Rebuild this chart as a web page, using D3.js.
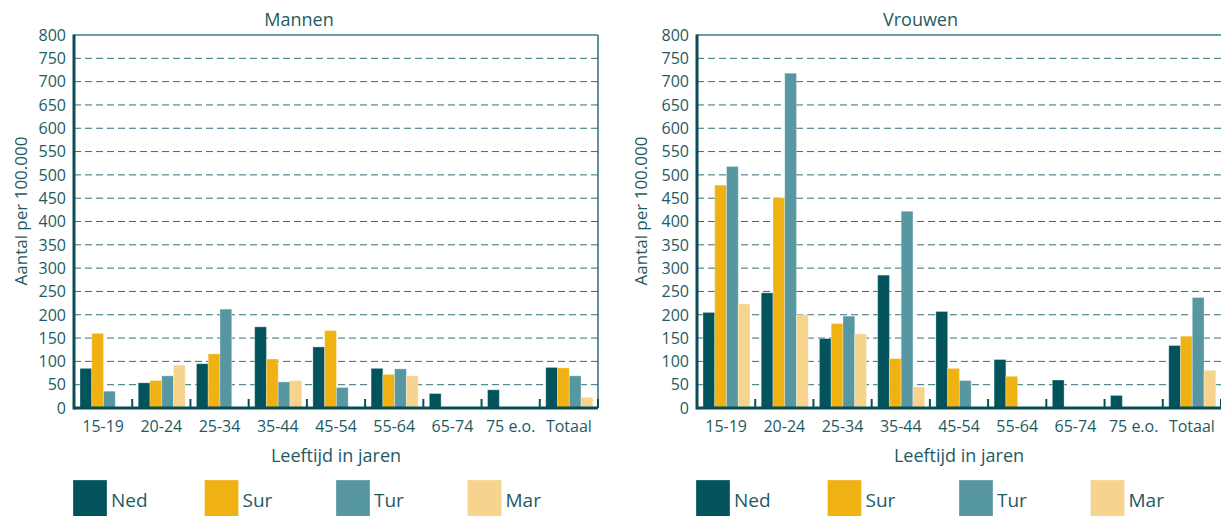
<!DOCTYPE html>
<html><head><meta charset="utf-8">
<script src="https://cdn.jsdelivr.net/npm/d3@7"></script>
<style>
body{margin:0;background:#fff;}
svg{display:block;font-family:"Open Sans",sans-serif;}
</style></head><body>
<svg id="c" width="1221" height="516"></svg>
<script>
const categories = ["15-19","20-24","25-34","35-44","45-54","55-64","65-74","75 e.o.","Totaal"];
const seriesNames = ["Ned","Sur","Tur","Mar"];
const seriesColors = ["#02535c","#f0b112","#5797a2","#f7d48d"];
const yTicks = [0,50,100,150,200,250,300,350,400,450,500,550,600,650,700,750,800];

// Mannen
const menNed = [85,54,95,174,131,85,31,39,87];
const menSur = [160,59,116,105,166,72,0,0,86];
const menTur = [36,69,212,56,44,84,0,0,69];
const menMar = [0,92,0,59,0,69,0,0,23];
// Vrouwen
const womNed = [205,247,149,285,207,104,60,27,134];
const womSur = [478,451,181,106,85,68,0,0,154];
const womTur = [518,718,197,422,59,0,0,0,237];
const womMar = [223,200,159,45,0,0,0,0,81];

const panels = [
  {title:"Mannen", series:[menNed,menSur,menTur,menMar], left:0, right:598, x0:74, x1:598, rightBorder:true},
  {title:"Vrouwen", series:[womNed,womSur,womTur,womMar], left:620, right:1221, x0:697, x1:1221, rightBorder:false}
];

const TEXT = "#1d5b63";
const DARK = "#0b4d55";
const svg = d3.select("#c");
const yTop = 35, yBot = 408;

panels.forEach(p => {
  const g = svg.append("g");
  const y = d3.scaleLinear().domain([0,800]).range([yBot,yTop]);
  const x = d3.scaleBand().domain(categories).range([p.x0,p.x1]).paddingInner(0).paddingOuter(0);
  const bw = x.bandwidth();
  const xs = d3.scaleBand().domain(seriesNames).range([bw*0.103, bw*0.911]).padding(0);

  // title
  g.append("text").attr("x",(p.left+p.right)/2).attr("y",26).attr("text-anchor","middle")
    .attr("fill",TEXT).attr("font-size",18).text(p.title);

  // gridlines
  g.selectAll("line.grid").data(yTicks.filter(t=>t>0 && t<800)).join("line")
    .attr("x1",p.x0).attr("x2",p.x1).attr("y1",d=>y(d)).attr("y2",d=>y(d))
    .attr("stroke","#2f6f78").attr("stroke-width",1).attr("stroke-dasharray","7,4");

  // top border
  g.append("line").attr("x1",p.x0).attr("x2",p.x1).attr("y1",y(800)).attr("y2",y(800))
    .attr("stroke","#3f7f88").attr("stroke-width",1.5);
  if (p.rightBorder) {
    g.append("line").attr("x1",p.x1).attr("x2",p.x1).attr("y1",y(800)).attr("y2",y(0))
      .attr("stroke","#2f6f78").attr("stroke-width",1.5);
  }

  // bars
  seriesNames.forEach((s,si) => {
    g.selectAll(null).data(categories.map((c,i)=>({c, v:p.series[si][i]})).filter(d=>d.v>0)).join("rect")
      .attr("x",d=>x(d.c)+xs(s)).attr("width",xs.bandwidth())
      .attr("y",d=>y(d.v)).attr("height",d=>y(0)-y(d.v))
      .attr("fill",seriesColors[si]).attr("stroke","rgba(255,255,255,0.3)").attr("stroke-width",1);
  });

  // baseline
  g.append("line").attr("x1",p.x0).attr("x2",p.x1).attr("y1",y(0)).attr("y2",y(0))
    .attr("stroke",DARK).attr("stroke-width",3);
  // category separator ticks
  g.selectAll(null).data(d3.range(1,categories.length+1)).join("line")
    .attr("x1",i=>p.x0+i*bw).attr("x2",i=>p.x0+i*bw).attr("y1",y(0)).attr("y2",y(0)-9)
    .attr("stroke",DARK).attr("stroke-width",2);
  // left axis
  g.append("line").attr("x1",p.x0).attr("x2",p.x0).attr("y1",y(800)-0.5).attr("y2",y(0)+1.5)
    .attr("stroke",DARK).attr("stroke-width",3);

  // y tick labels
  g.selectAll(null).data(yTicks).join("text")
    .attr("x",p.x0-8).attr("y",d=>y(d)).attr("dy","0.36em").attr("text-anchor","end")
    .attr("fill",TEXT).attr("font-size",16).text(d=>d);

  // x labels
  g.selectAll(null).data(categories).join("text")
    .attr("x",d=>x(d)+bw/2).attr("y",432).attr("text-anchor","middle")
    .attr("fill",TEXT).attr("font-size",16).text(d=>d);

  // axis titles
  g.append("text").attr("x",(p.x0+p.x1)/2).attr("y",462).attr("text-anchor","middle")
    .attr("fill",TEXT).attr("font-size",18).text("Leeftijd in jaren");
  g.append("text").attr("transform",`translate(${p.left+27},211) rotate(-90)`).attr("text-anchor","middle")
    .attr("fill",TEXT).attr("font-size",17).text("Aantal per 100.000");

  // legend
  seriesNames.forEach((s,si) => {
    const lx = p.x0 - 1 + si*131.5;
    g.append("rect").attr("x",lx).attr("y",480).attr("width",34).attr("height",40)
      .attr("fill",seriesColors[si]).attr("stroke","rgba(255,255,255,0.3)");
    g.append("text").attr("x",lx+38).attr("y",507).attr("fill",TEXT).attr("font-size",19).text(s);
  });
});
</script>
</body></html>
